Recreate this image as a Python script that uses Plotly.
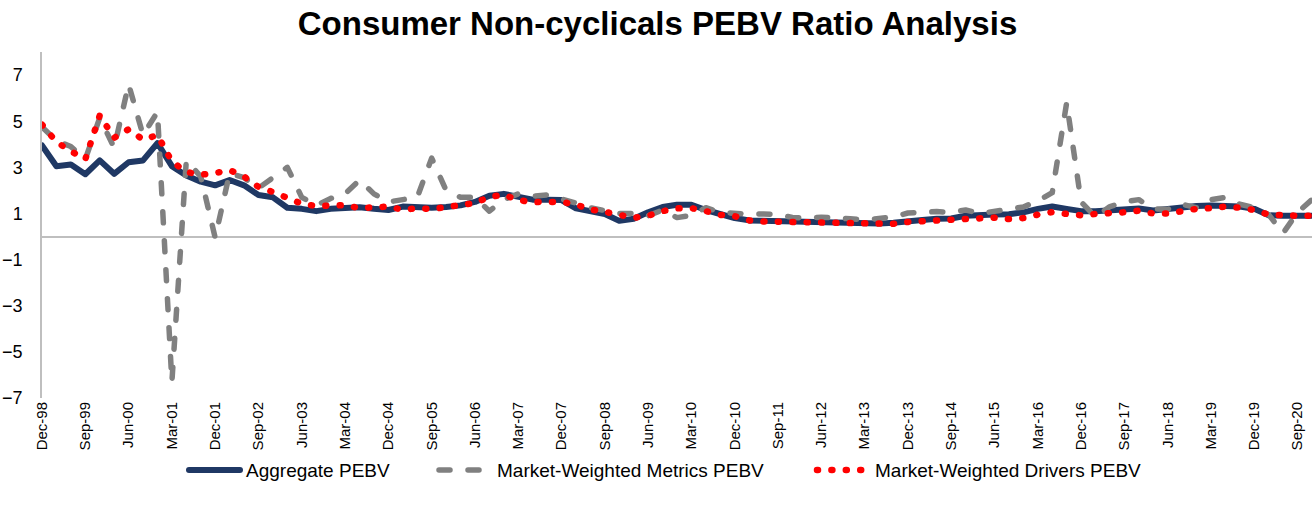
import plotly.graph_objects as go

# ---- categories (quarter ends) ----
months = ["Mar", "Jun", "Sep", "Dec"]
quarters = ["Dec-98"] + [f"{m}-{y % 100:02d}" for y in range(1999, 2021) for m in months]
tick_labels = quarters[::3]

# ---- series values ----
aggregate = [
    3.95, 3.05, 3.12, 2.70, 3.30, 2.72, 3.22, 3.30, 4.05, 3.05,
    2.65, 2.38, 2.22, 2.45, 2.22, 1.80, 1.70, 1.25, 1.20, 1.10,
    1.20, 1.25, 1.27, 1.20, 1.15, 1.30, 1.25, 1.25, 1.28, 1.35,
    1.50, 1.77, 1.85, 1.70, 1.60, 1.60, 1.58, 1.22, 1.10, 0.98,
    0.68, 0.77, 1.05, 1.28, 1.38, 1.38, 1.15, 0.98, 0.80, 0.70,
    0.68, 0.65, 0.62, 0.62, 0.60, 0.58, 0.56, 0.55, 0.56, 0.60,
    0.68, 0.72, 0.77, 0.78, 0.90, 0.95, 0.95, 0.97, 1.05, 1.20,
    1.30, 1.20, 1.10, 1.10, 1.12, 1.18, 1.22, 1.13, 1.20, 1.28,
    1.32, 1.35, 1.35, 1.30, 1.20, 0.92, 0.90, 0.90, 0.90,
]
metrics = [
    4.75, 4.15, 3.90, 3.35, 5.15, 3.85, 6.60, 4.40, 5.40, -6.30,
    3.30, 2.60, -0.05, 2.75, 2.55, 2.10, 2.55, 3.00, 1.70, 1.35,
    1.65, 1.85, 2.45, 1.85, 1.50, 1.60, 1.70, 3.40, 2.00, 1.70,
    1.70, 1.10, 1.60, 1.85, 1.75, 1.80, 1.65, 1.45, 1.25, 1.10,
    1.00, 1.00, 0.90, 1.15, 0.82, 0.92, 1.25, 1.05, 1.00, 0.97,
    0.98, 0.95, 0.83, 0.80, 0.84, 0.82, 0.77, 0.72, 0.77, 0.85,
    1.02, 1.06, 1.08, 1.05, 1.15, 1.00, 1.10, 1.15, 1.28, 1.55,
    1.90, 5.80, 1.50, 0.85, 1.30, 1.50, 1.60, 1.20, 1.18, 1.40,
    1.25, 1.60, 1.70, 1.40, 1.25, 0.95, 0.15, 1.05, 1.60,
]
drivers = [
    4.85, 4.10, 3.70, 3.35, 5.25, 4.28, 4.65, 4.20, 4.40, 3.25,
    2.80, 2.68, 2.75, 2.88, 2.60, 2.15, 1.93, 1.68, 1.42, 1.32,
    1.33, 1.36, 1.23, 1.25, 1.30, 1.16, 1.23, 1.19, 1.28, 1.36,
    1.45, 1.72, 1.81, 1.58, 1.49, 1.50, 1.50, 1.39, 1.17, 1.07,
    0.91, 0.81, 0.90, 1.10, 1.22, 1.23, 1.10, 0.94, 0.88, 0.70,
    0.65, 0.64, 0.64, 0.64, 0.64, 0.58, 0.55, 0.55, 0.55, 0.55,
    0.63, 0.66, 0.72, 0.74, 0.80, 0.82, 0.82, 0.76, 0.80, 0.95,
    1.06, 0.98, 0.92, 0.98, 0.98, 1.05, 1.12, 1.00, 1.00, 1.12,
    1.20, 1.23, 1.30, 1.25, 1.15, 0.95, 0.90, 0.90, 0.90,
]
y_ticks = [-7, -5, -3, -1, 1, 3, 5, 7]

series_names = ["Aggregate PEBV", "Market-Weighted Metrics PEBV", "Market-Weighted Drivers PEBV"]
colors = ["#1f3864", "#808080", "#ff0000"]
widths = [6, 5.5, 6.5]
dashes = ["solid", "11px,18px", "1px,13.4px"]

FONT = "Liberation Sans, Arial, sans-serif"

fig = go.Figure()
for name, vals, c, w, d in zip(series_names, [aggregate, metrics, drivers], colors, widths, dashes):
    fig.add_trace(go.Scatter(
        x=quarters, y=vals, mode="lines", name=name,
        line=dict(color=c, width=w, dash=d),
        showlegend=False,
    ))

W, H = 1315, 513
ML, MR, MT, MB = 42, 3, 52, 115
pw, ph = W - ML - MR, H - MT - MB

def px2paper_x(px):
    return (px - ML) / pw

def px2paper_y(py):
    return (H - MB - py) / ph

# manual legend (line samples + text)
legend_items = [(189, 240, 244), (439, 490, 495), (817, 869, 873)]
legend_y = 470
shapes = []
annotations = []
for (x0, x1, tx), name, c, w, d in zip(legend_items, series_names, colors, widths, dashes):
    shapes.append(dict(type="line", xref="paper", yref="paper",
                       x0=px2paper_x(x0), x1=px2paper_x(x1),
                       y0=px2paper_y(legend_y), y1=px2paper_y(legend_y),
                       line=dict(color=c, width=w, dash=d)))
    annotations.append(dict(xref="paper", yref="paper", x=px2paper_x(tx), y=px2paper_y(legend_y),
                            xanchor="left", yanchor="middle", showarrow=False, text=name,
                            font=dict(family=FONT, size=19, color="#000000")))

fig.update_layout(
    width=W, height=H,
    margin=dict(l=ML, r=MR, t=MT, b=MB, autoexpand=False),
    paper_bgcolor="white", plot_bgcolor="white",
    title=dict(text="<b>Consumer Non-cyclicals PEBV Ratio Analysis</b>",
               x=0.5, xanchor="center", y=(H - 23) / H, yanchor="middle", yref="container",
               font=dict(family=FONT, size=33, color="#000000")),
    xaxis=dict(type="category", range=[0, len(quarters) - 1], automargin=False,
               tickmode="array", tickvals=tick_labels, ticktext=tick_labels,
               tickangle=-90, showgrid=False, showline=False, zeroline=False,
               ticks="", tickfont=dict(family=FONT, size=15, color="#000000")),
    yaxis=dict(range=[-7, 8], tickmode="array", tickvals=y_ticks, automargin=False,
               showgrid=False, showline=True, linecolor="#bfbfbf", linewidth=1.5,
               zeroline=True, zerolinecolor="#bfbfbf", zerolinewidth=2,
               ticks="", ticklabelstandoff=14,
               tickfont=dict(family=FONT, size=18, color="#000000")),
    shapes=shapes,
    annotations=annotations,
    showlegend=False,
)

post = """
document.body.style.margin = '0';
document.body.style.overflow = 'hidden';
document.querySelectorAll('path.js-line, .shapelayer path').forEach(function(p){
  p.style.strokeLinecap = 'round';
  p.style.strokeLinejoin = 'round';
});
"""
fig.write_html("out.html", post_script=post, config={"displayModeBar": False})
